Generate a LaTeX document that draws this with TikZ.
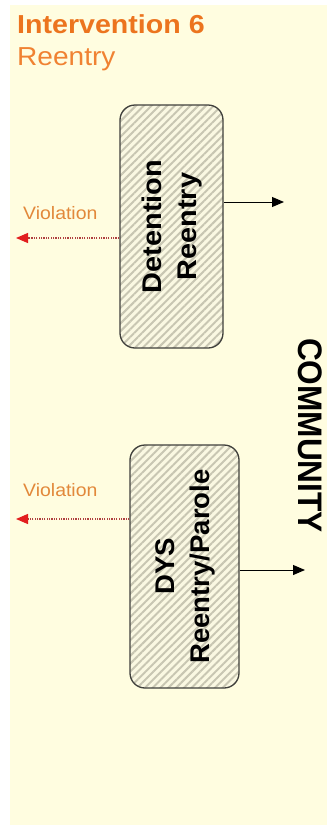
\documentclass[tikz,border=0pt]{standalone}
\usepackage{fontspec}
\setmainfont{Liberation Sans}
\usetikzlibrary{patterns.meta,arrows.meta}
\definecolor{bg}{RGB}{255,253,224}
\definecolor{titleor}{RGB}{236,116,30}
\definecolor{subor}{RGB}{240,130,50}
\definecolor{violor}{RGB}{226,136,58}
\definecolor{hatch}{RGB}{200,198,178}
\definecolor{boxbase}{RGB}{250,248,226}
\definecolor{boxline}{RGB}{64,64,60}
\definecolor{dotred}{RGB}{176,64,64}
\definecolor{headred}{RGB}{226,30,30}
\tikzset{
  stagebox/.style={draw=boxline, line width=1.3pt, rounded corners=15pt,
    preaction={fill=boxbase},
    pattern={Lines[angle=45,distance=5.5pt,line width=2pt]}, pattern color=hatch,
    inner sep=0pt, font=\fontsize{27}{35}\selectfont\bfseries},
  outarrow/.style={draw=black, line width=1pt, -{Triangle[length=12pt,width=10pt]}},
  violarrow/.style={draw=dotred, line width=1.2pt, dash pattern=on 1.2pt off 1.2pt,
    -{Triangle[length=12pt,width=10pt,fill=headred,color=headred]}},
  violtext/.style={anchor=west, text=violor, font=\fontsize{18}{20}\selectfont, inner sep=0pt}
}
\begin{document}
\begin{tikzpicture}[x=1pt,y=-1pt]
\useasboundingbox (0,0) rectangle (327,825);
\fill[white] (0,0) rectangle (327,825);
\fill[bg] (10,5) rectangle (327,825);

\node[anchor=base west, inner sep=0pt, text=titleor, font=\fontsize{26}{30}\selectfont\bfseries] (t1) at (17,33) {\scalebox{1.1}[1]{Intervention 6}};
\node[anchor=base west, inner sep=0pt, text=subor, font=\fontsize{26}{30}\selectfont] (t2) at (17,65) {\scalebox{1.08}[1]{Reentry}};

\node[stagebox, minimum width=103pt, minimum height=243pt] (b1) at (171.5,226.5)
  {\rotatebox{90}{\scalebox{1.07}[1]{\begin{tabular}{@{}c@{}}Detention\\Reentry\end{tabular}}}};
\node[stagebox, minimum width=109pt, minimum height=243pt] (b2) at (184.5,566.5)
  {\rotatebox{90}{\scalebox{1.02}[1]{\begin{tabular}{@{}c@{}}DYS\\Reentry/Parole\end{tabular}}}};

\node[rotate=-90, inner sep=0pt, font=\fontsize{34}{40}\selectfont\bfseries] (comm) at (310,435.5) {\scalebox{0.93}[1]{COMMUNITY}};

\coordinate (c1) at (284,202);
\coordinate (v1) at (16,238);
\coordinate (c2) at (305,570);
\coordinate (v2) at (16,519);

\draw[outarrow] (b1.east |- c1) -- (c1);
\draw[violarrow] (b1.west |- v1) -- (v1);
\draw[outarrow] (b2.east |- c2) -- (c2);
\draw[violarrow] (b2.west |- v2) -- (v2);

\node[violtext] (l1) at (23,213) {\scalebox{1.08}[1]{Violation}};
\node[violtext] (l2) at (23,490) {\scalebox{1.08}[1]{Violation}};
\end{tikzpicture}
\end{document}
